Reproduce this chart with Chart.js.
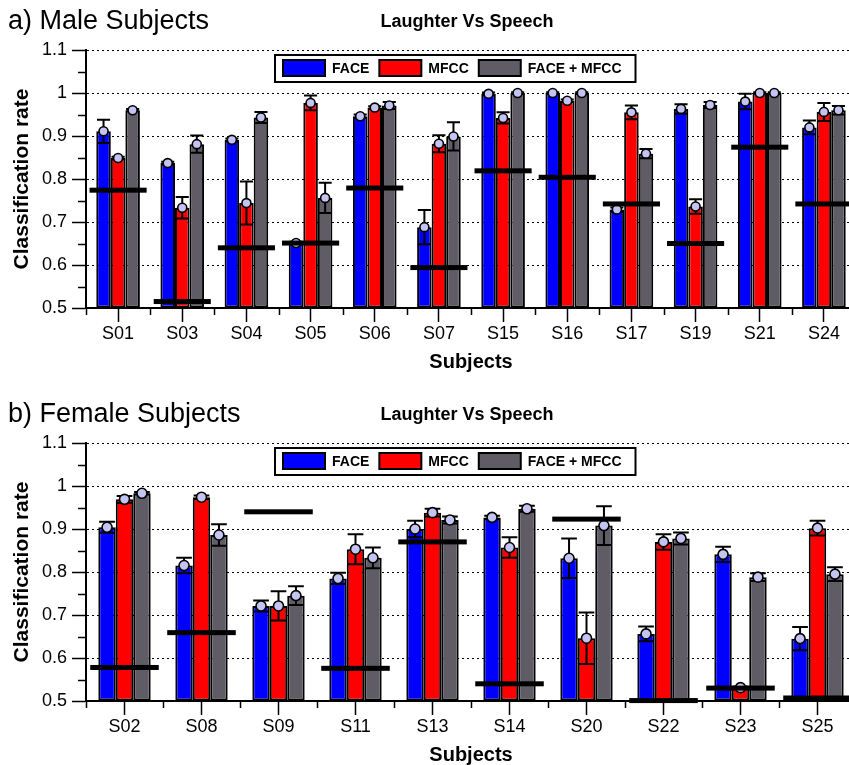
<!DOCTYPE html>
<html>
<head>
<meta charset="utf-8">
<script src="https://cdn.jsdelivr.net/npm/chart.js@4.4.1/dist/chart.umd.min.js"></script>
<style>
  html, body { margin: 0; padding: 0; background: #fff; width: 849px; height: 765px; overflow: hidden; }
  .panel { position: absolute; left: 0; width: 849px; height: 382px; overflow: hidden; }
  canvas { display: block; }
</style>
</head>
<body>
<div class="panel" style="top:0"><canvas id="male" width="860" height="382"></canvas></div>
<div class="panel" style="top:393px"><canvas id="female" width="860" height="382"></canvas></div>
<script>
// ---- Male subjects ----
const maleSubjects = ['S01', 'S03', 'S04', 'S05', 'S06', 'S07', 'S15', 'S16', 'S17', 'S19', 'S21', 'S24'];
const maleFace      = [0.911, 0.837, 0.891, 0.651, 0.946, 0.688, 0.998, 1.000, 0.729, 0.963, 0.980, 0.920];
const maleFaceErr   = [0.027, 0.003, 0.003, 0.003, 0.004, 0.040, 0.003, 0.002, 0.005, 0.011, 0.018, 0.016];
const maleMfcc      = [0.849, 0.733, 0.744, 0.977, 0.966, 0.882, 0.942, 0.982, 0.955, 0.736, 1.000, 0.956];
const maleMfccErr   = [0.003, 0.025, 0.050, 0.017, 0.003, 0.020, 0.013, 0.003, 0.016, 0.017, 0.002, 0.021];
const maleBoth      = [0.960, 0.881, 0.943, 0.756, 0.971, 0.899, 1.000, 1.000, 0.859, 0.972, 1.000, 0.960];
const maleBothErr   = [0.003, 0.020, 0.013, 0.035, 0.008, 0.033, 0.002, 0.002, 0.011, 0.007, 0.002, 0.010];
const maleChance    = [0.774, 0.515, 0.640, 0.651, 0.779, 0.594, 0.819, 0.804, 0.742, 0.650, 0.874, 0.742];

// ---- Female subjects ----
const femaleSubjects = ['S02', 'S08', 'S09', 'S11', 'S13', 'S14', 'S20', 'S22', 'S23', 'S25'];
const femaleFace     = [0.904, 0.815, 0.721, 0.785, 0.900, 0.927, 0.832, 0.656, 0.841, 0.645];
const femaleFaceErr  = [0.013, 0.018, 0.013, 0.013, 0.019, 0.004, 0.046, 0.017, 0.018, 0.027];
const femaleMfcc     = [0.969, 0.974, 0.721, 0.853, 0.938, 0.857, 0.646, 0.870, 0.531, 0.902];
const femaleMfccErr  = [0.008, 0.004, 0.034, 0.035, 0.009, 0.024, 0.060, 0.018, 0.003, 0.017];
const femaleBoth     = [0.983, 0.886, 0.745, 0.833, 0.921, 0.947, 0.908, 0.878, 0.788, 0.795];
const femaleBothErr  = [0.003, 0.025, 0.022, 0.024, 0.008, 0.007, 0.045, 0.014, 0.009, 0.016];
const femaleChance   = [0.578, 0.659, 0.940, 0.576, 0.870, 0.540, 0.923, 0.501, 0.530, 0.507];

const seriesNames = ['FACE', 'MFCC', 'FACE + MFCC'];
const seriesColors = ['#0000ff', '#ff0000', '#5f5c66'];
const yTicks = [0.5, 0.6, 0.7, 0.8, 0.9, 1.0, 1.1];

const FONT = "'Liberation Sans', Arial, Helvetica, sans-serif";

// Error bars, value markers, chance-level bars, legend box, headings and minor ticks
const extrasPlugin = {
  id: 'subjectExtras',
  afterDatasetsDraw(chart, args, opts) {
    const ctx = chart.ctx;
    const ys = chart.scales.y, xs = chart.scales.x;
    ctx.save();
    // error bars
    chart.data.datasets.forEach((ds, i) => {
      chart.getDatasetMeta(i).data.forEach((bar, j) => {
        const v = ds.data[j], e = ds.errors[j];
        const yt = ys.getPixelForValue(v + e), yb = ys.getPixelForValue(v - e);
        const half = bar.width * 0.45;
        ctx.strokeStyle = '#000';
        ctx.lineWidth = 2;
        ctx.beginPath();
        ctx.moveTo(bar.x, yt); ctx.lineTo(bar.x, yb);
        ctx.moveTo(bar.x - half, yt); ctx.lineTo(bar.x + half, yt);
        ctx.moveTo(bar.x - half, yb); ctx.lineTo(bar.x + half, yb);
        ctx.stroke();
      });
    });
    // value markers
    chart.data.datasets.forEach((ds, i) => {
      chart.getDatasetMeta(i).data.forEach((bar, j) => {
        ctx.beginPath();
        ctx.arc(bar.x, ys.getPixelForValue(ds.data[j]), opts.markerRadius, 0, Math.PI * 2);
        ctx.fillStyle = '#c4c4f2';
        ctx.fill();
        ctx.lineWidth = 1.6;
        ctx.strokeStyle = '#000';
        ctx.stroke();
      });
    });
    // chance level per subject
    const step = xs.getPixelForValue(1) - xs.getPixelForValue(0);
    ctx.fillStyle = '#000';
    opts.chance.forEach((c, j) => {
      const cx = xs.getPixelForValue(j);
      const cy = ys.getPixelForValue(c);
      ctx.fillRect(cx - step * 0.445, cy - 2.5, step * 0.89, 5);
    });
    ctx.restore();
  },
  afterDraw(chart, args, opts) {
    const ctx = chart.ctx;
    const ys = chart.scales.y, xs = chart.scales.x;
    const area = chart.chartArea;
    ctx.save();
    // minor ticks on the value axis
    ctx.strokeStyle = '#000';
    ctx.lineWidth = 1.5;
    ctx.beginPath();
    for (let k = 0; k < yTicks.length - 1; k++) {
      const py = Math.round(ys.getPixelForValue((yTicks[k] + yTicks[k + 1]) / 2)) + 0.5;
      ctx.moveTo(area.left - 8, py); ctx.lineTo(area.left, py);
    }
    // minor ticks between subjects
    const step = xs.getPixelForValue(1) - xs.getPixelForValue(0);
    for (let j = 0; j <= chart.data.labels.length; j++) {
      const px = Math.round(xs.getPixelForValue(0) - step / 2 + j * step) + 0.5;
      ctx.moveTo(px, area.bottom); ctx.lineTo(px, area.bottom + 7);
    }
    ctx.stroke();

    // panel heading
    ctx.fillStyle = '#000';
    ctx.textBaseline = 'alphabetic';
    ctx.textAlign = 'left';
    ctx.font = '27px ' + FONT;
    ctx.fillText(opts.heading, 8, 29);
    // chart title
    ctx.textAlign = 'center';
    ctx.font = 'bold 18px ' + FONT;
    ctx.fillText(opts.title, (area.left + area.right) / 2 - 4, 27);

    // legend box
    ctx.font = 'bold 14px ' + FONT;
    ctx.textAlign = 'left';
    ctx.textBaseline = 'middle';
    const bx = area.left + 189, by = area.top + 5, bh = 27;
    let x = bx + 8;
    const items = chart.data.datasets.map(ds => {
      const it = { x, label: ds.label, color: ds.backgroundColor };
      x += 42 + 7 + ctx.measureText(ds.label).width + 10;
      return it;
    });
    const bw = x - 10 + 14 - bx;
    ctx.fillStyle = '#fff';
    ctx.fillRect(bx, by, bw, bh);
    ctx.lineWidth = 2;
    ctx.strokeStyle = '#000';
    ctx.strokeRect(bx, by, bw, bh);
    items.forEach(it => {
      ctx.fillStyle = it.color;
      ctx.fillRect(it.x, by + 5, 42, 16);
      ctx.lineWidth = 2;
      ctx.strokeRect(it.x, by + 5, 42, 16);
      ctx.fillStyle = '#000';
      ctx.fillText(it.label, it.x + 49, by + bh / 2 + 1);
    });
    ctx.restore();
  }
};

function makeChart(id, labels, series, errors, chance, heading) {
  return new Chart(document.getElementById(id), {
    type: 'bar',
    data: {
      labels,
      datasets: series.map((d, i) => ({
        label: seriesNames[i],
        data: d,
        errors: errors[i],
        backgroundColor: seriesColors[i],
        borderColor: '#000',
        borderWidth: 2,
        borderSkipped: false,
        base: 0.5,
        categoryPercentage: 0.68,
        barPercentage: 1.0
      }))
    },
    options: {
      responsive: false,
      animation: false,
      devicePixelRatio: 1,
      layout: { padding: { top: 50, left: 0, right: 4, bottom: 0 } },
      plugins: {
        legend: { display: false },
        title: { display: false },
        tooltip: { enabled: false },
        subjectExtras: { heading, title: 'Laughter Vs Speech', chance, markerRadius: labels.length > 10 ? 4.5 : 5 }
      },
      scales: {
        x: {
          offset: true,
          grid: { display: true, offset: false, drawOnChartArea: false, drawTicks: true, tickLength: 14, tickColor: '#000', tickWidth: 1.5 },
          border: { display: true, color: '#000', width: 2 },
          ticks: { color: '#000', font: { family: FONT, size: 18 }, padding: 1, maxRotation: 0, autoSkip: false },
          title: { display: true, text: 'Subjects', color: '#000', font: { family: FONT, size: 20, weight: 'bold' }, padding: { top: 0, bottom: 8 } },
          afterFit(scale) { scale.height = 74; }
        },
        y: {
          min: 0.5,
          max: 1.1,
          afterBuildTicks(scale) { scale.ticks = yTicks.map(v => ({ value: v })); },
          grid: {
            color: ctx => (ctx.tick && ctx.tick.value > 0.55 ? '#000' : 'rgba(0,0,0,0)'),
            lineWidth: 1,
            tickLength: 14,
            tickColor: '#000',
            tickWidth: 1.5
          },
          border: { display: true, color: '#000', width: 2, dash: [2, 3] },
          ticks: {
            color: '#000',
            font: { family: FONT, size: 18 },
            padding: 5,
            callback: v => String(+v.toFixed(1))
          },
          title: { display: true, text: 'Classification rate', color: '#000', font: { family: FONT, size: 21, weight: 'bold' }, padding: { top: 10, bottom: 0 } },
          afterFit(scale) { scale.width = 86; }
        }
      }
    },
    plugins: [extrasPlugin]
  });
}

makeChart('male', maleSubjects,
  [maleFace, maleMfcc, maleBoth],
  [maleFaceErr, maleMfccErr, maleBothErr],
  maleChance, 'a) Male Subjects');

makeChart('female', femaleSubjects,
  [femaleFace, femaleMfcc, femaleBoth],
  [femaleFaceErr, femaleMfccErr, femaleBothErr],
  femaleChance, 'b) Female Subjects');
</script>
</body>
</html>
